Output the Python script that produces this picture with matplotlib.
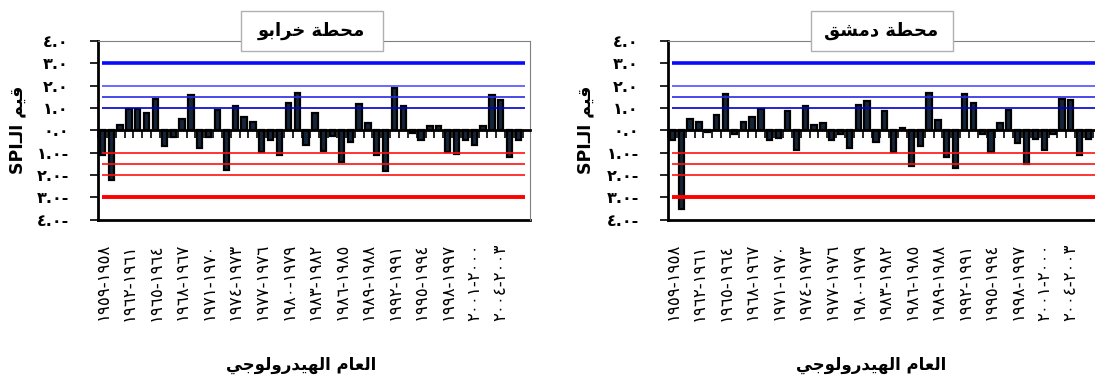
import matplotlib

matplotlib.use("Agg")
import matplotlib.pyplot as plt  # noqa: E402
import matplotlib.transforms as mtransforms  # noqa: E402
import numpy as np  # noqa: E402
from matplotlib.patches import Rectangle  # noqa: E402

# hydrological years 1958-1959 ... 2005-2006
START_YEARS = list(range(1958, 2006))

SPI_KHRABO = [
    -1.12, -2.24, 0.25, 0.97, 0.97, 0.79, 1.42, -0.72, -0.30, 0.52,
    1.57, -0.79, -0.30, 0.93, -1.76, 1.07, 0.60, 0.37, -0.97, -0.45,
    -1.13, 1.22, 1.69, -0.64, 0.79, -0.94, -0.25, -1.42, -0.52, 1.19,
    0.33, -1.13, -1.82, 1.91, 1.07, -0.12, -0.45, 0.18, 0.18, -0.97,
    -1.07, -0.45, -0.67, 0.18, 1.57, 1.34, -1.19, -0.45,
]
SPI_DAMASCUS = [
    -0.45, -3.54, 0.52, 0.37, -0.10, 0.67, 1.61, -0.18, 0.37, 0.60,
    0.97, -0.45, -0.33, 0.87, -0.87, 1.07, 0.25, 0.33, -0.45, -0.18,
    -0.79, 1.15, 1.30, -0.52, 0.87, -0.97, 0.10, -1.61, -0.70, 1.69,
    0.45, -1.19, -1.69, 1.61, 1.22, -0.15, -0.97, 0.33, 0.93, -0.57,
    -1.49, -0.37, -0.87, -0.18, 1.42, 1.34, -1.11, -0.40,
]
WET_LEVELS = [3.0, 2.0, 1.5, 1.0]
DRY_LEVELS = [-1.0, -1.5, -2.0, -3.0]
Y_TICKS = [4, 3, 2, 1, 0, -1, -2, -3, -4]

# Arabic strings are stored pre-shaped, in visual (left-to-right) order,
# because matplotlib does no Arabic joining or bidi reordering.
TITLE_KHRABO = "\ufeee\ufe91\ufe8d\ufeae\ufea7 \ufe94\ufec4\ufea4\ufee3"   # محطة خرابو
TITLE_DAMASCUS = "\ufed6\ufeb8\ufee3\ufea9 \ufe94\ufec4\ufea4\ufee3"       # محطة دمشق
Y_LABEL = "SPI\u0640\ufedf\ufe8d \ufee2\ufef4\ufed7"                        # قيم الـSPI
X_LABEL = ("\ufef2\ufe9f\ufeee\ufedf\ufeed\ufead\ufeaa\ufef4\ufeec\ufedf\ufe8d "
           "\ufee1\ufe8e\ufecc\ufedf\ufe8d")                                # العام الهيدرولوجي

ARABIC_DIGITS = str.maketrans("0123456789", "\u0660\u0661\u0662\u0663\u0664\u0665\u0666\u0667\u0668\u0669")

WET_STYLE = [(2.6, "#0a0aff"), (1.2, "#5050ff"), (1.2, "#2a2ae6"), (1.2, "#0000cc")]
DRY_STYLE = [(1.2, "#ff1010"), (1.2, "#ff1010"), (1.2, "#ff1010"), (2.8, "#ff0000")]

plt.rcParams["font.family"] = ["DejaVu Sans"]


def y_label_text(value):
    text = f"{abs(value):.1f}".translate(ARABIC_DIGITS)
    return text + "-" if value < 0 else text


def year_label(start):
    return f"{start + 1}-{start}".translate(ARABIC_DIGITS)


def draw_panel(ax, values, title, ylabel_x):
    n = len(values)
    x = np.arange(n)
    ax.bar(x, values, width=0.6, color="#15263a", edgecolor="black", linewidth=1.6, zorder=2)

    for level, (lw, color) in zip(WET_LEVELS, WET_STYLE):
        ax.hlines(level, 0, n - 0.3, colors=color, linewidth=lw, zorder=3)
    for level, (lw, color) in zip(DRY_LEVELS, DRY_STYLE):
        ax.hlines(level, 0, n - 0.3, colors=color, linewidth=lw, zorder=3)

    ax.set_xlim(-0.5, n + 0.3)
    ax.set_ylim(-4, 4)

    ax.set_yticks(Y_TICKS)
    ax.set_yticklabels([y_label_text(v) for v in Y_TICKS], fontsize=11.5, fontweight="bold")
    ax.tick_params(axis="y", direction="out", length=6, width=1.2, pad=15)

    # category axis crosses at zero, tick marks between the bars
    ax.spines["bottom"].set_position(("data", 0))
    ax.spines["bottom"].set_linewidth(2.0)
    ax.spines["bottom"].set_zorder(4)
    ax.set_xticks(np.arange(n + 1) - 0.5)
    ax.tick_params(axis="x", direction="out", length=6, width=1.2, labelbottom=False)
    ax.spines["left"].set_linewidth(2.0)
    for side in ("top", "right"):
        ax.spines[side].set_linewidth(0.8)
        ax.spines[side].set_color("#808080")
    ax.plot([0, 1], [0, 0], transform=ax.transAxes, color="black", linewidth=2.0, clip_on=False)

    trans = mtransforms.blended_transform_factory(ax.transData, ax.transAxes)
    for i in range(0, n, 3):
        ax.text(x[i], -0.132, year_label(START_YEARS[i]), transform=trans, rotation=90,
                ha="center", va="top", fontsize=12)

    ax.text(0.47, -0.815, X_LABEL, transform=ax.transAxes, ha="center", va="center",
            fontsize=12, fontweight="bold")
    ax.text(ylabel_x, 0.5, Y_LABEL, transform=ax.transAxes, rotation=90, ha="center",
            va="center", fontsize=12.5, fontweight="bold")

    box = Rectangle((0.33, 0.944), 0.329, 0.224, transform=ax.transAxes, facecolor="white",
                    edgecolor="#b0b0b0", linewidth=1.0, clip_on=False, zorder=5)
    ax.add_patch(box)
    ax.text(0.4945, 1.056, title, transform=ax.transAxes, ha="center", va="center",
            fontsize=13, fontweight="bold", zorder=6)


fig = plt.figure(figsize=(10.95, 3.79), dpi=100, facecolor="white")
ax_left = fig.add_axes([0.0895, 0.4208, 0.3945, 0.471])
ax_right = fig.add_axes([0.610, 0.4208, 0.3945, 0.471])

draw_panel(ax_left, SPI_KHRABO, TITLE_KHRABO, -0.186)
draw_panel(ax_right, SPI_DAMASCUS, TITLE_DAMASCUS, -0.191)

fig.savefig("out.png", dpi=100)
